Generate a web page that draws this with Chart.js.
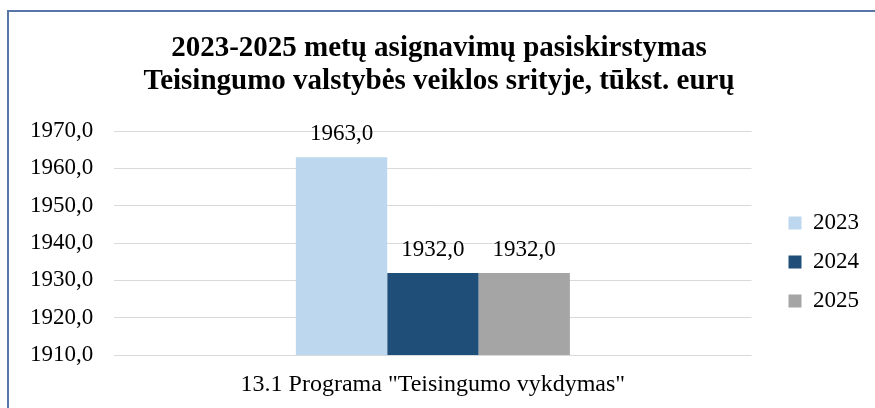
<!DOCTYPE html>
<html>
<head>
<meta charset="utf-8">
<script src="https://cdn.jsdelivr.net/npm/chart.js@4"></script>
<style>
  body { margin: 0; background: #fff; }
  #wrap {
    position: absolute; left: 7px; top: 10px;
    width: 868px; height: 398px;
    border-left: 2px solid #5877a8; border-top: 2px solid #5877a8;
  }
  canvas { display: block; }
</style>
</head>
<body>
<div id="wrap"><canvas id="chart" width="868" height="398"></canvas></div>
<script>
// duomenys
const kategorijos = ['13.1 Programa "Teisingumo vykdymas"'];
const metai = ['2023', '2024', '2025'];
const reiksmes2023 = [1963.0];
const reiksmes2024 = [1932.0];
const reiksmes2025 = [1932.0];
const yMin = 1910, yMax = 1970, yZingsnis = 10;
const spalvos = ['#bdd7ee', '#1f4e79', '#a5a5a5'];

const serif = "'Liberation Serif', 'Times New Roman', serif";

function lt(v) {
    return v.toFixed(1).replace('.', ',');
}

// reiksmes virs stulpeliu
const virsStulpeliu = {
    id: 'virsStulpeliu',
    afterDatasetsDraw(chart) {
        const ctx = chart.ctx;
        ctx.save();
        ctx.font = '23px ' + serif;
        ctx.fillStyle = '#000';
        ctx.textAlign = 'center';
        ctx.textBaseline = 'middle';
        chart.data.datasets.forEach((ds, i) => {
            chart.getDatasetMeta(i).data.forEach((bar, j) => {
                ctx.fillText(lt(ds.data[j]), bar.x, bar.y - 23);
            });
        });
        ctx.restore();
    }
};

new Chart(document.getElementById('chart'), {
    type: 'bar',
    data: {
        labels: kategorijos,
        datasets: [
            { label: metai[0], data: reiksmes2023, backgroundColor: spalvos[0] },
            { label: metai[1], data: reiksmes2024, backgroundColor: spalvos[1] },
            { label: metai[2], data: reiksmes2025, backgroundColor: spalvos[2] }
        ]
    },
    options: {
        responsive: false,
        animation: false,
        categoryPercentage: 0.43,
        barPercentage: 1,
        layout: { padding: { left: 0, right: 8, top: 20, bottom: 12 } },
        plugins: {
            title: {
                display: true,
                text: ['2023-2025 metų asignavimų pasiskirstymas', 'Teisingumo valstybės veiklos srityje, tūkst. eurų'],
                color: '#000',
                font: { family: serif, size: 29, weight: 'bold', lineHeight: 1.14 },
                padding: { top: 0, bottom: 33 }
            },
            legend: {
                position: 'right',
                title: { display: true, text: ' ', padding: { top: 70, bottom: 0 }, font: { size: 20 } },
                labels: {
                    color: '#000',
                    font: { family: serif, size: 23 },
                    boxWidth: 13,
                    boxHeight: 13,
                    padding: 16
                }
            },
            tooltip: { enabled: false }
        },
        scales: {
            x: {
                grid: { display: false },
                border: { display: false },
                ticks: { color: '#000', font: { family: serif, size: 24 }, padding: 7 },
                afterFit: s => { s.height = 43; }
            },
            y: {
                min: yMin,
                max: yMax,
                border: { display: false },
                grid: { color: '#d9d9d9', drawTicks: false },
                ticks: {
                    stepSize: yZingsnis,
                    color: '#000',
                    font: { family: serif, size: 23 },
                    padding: 21,
                    callback: v => lt(v)
                }
            },
            // tuscias tarpas tarp grafiko ir legendos
            tarpas: {
                type: 'linear',
                position: 'right',
                display: true,
                grid: { display: false },
                border: { display: false },
                ticks: { display: false },
                afterFit: s => { s.width = 21; }
            }
        }
    },
    plugins: [virsStulpeliu]
});
</script>
</body>
</html>
